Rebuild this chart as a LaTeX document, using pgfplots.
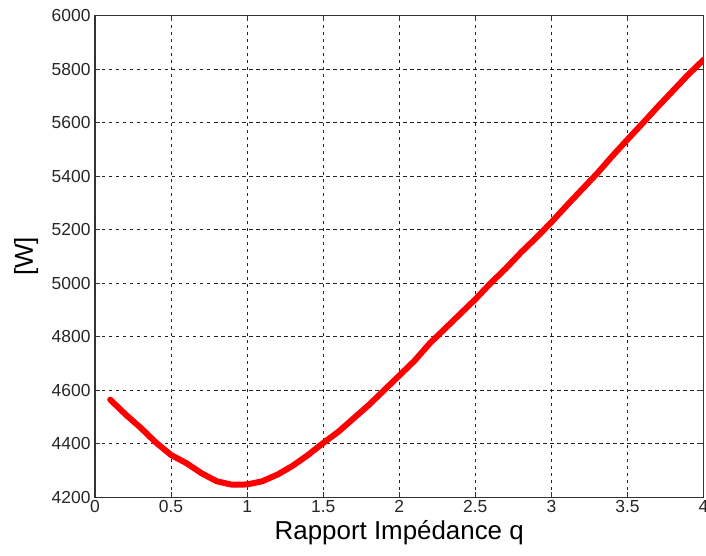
\documentclass[border=0pt]{standalone}
\usepackage{pgfplots}
\pgfplotsset{compat=1.18}
\usepackage{fontspec}
\setmainfont{Liberation Sans}
\begin{document}
\begin{tikzpicture}
\begin{axis}[
  scale only axis,
  width=608.5bp, height=481.6bp,
  xmin=0, xmax=4, ymin=4200, ymax=6000,
  xtick={0,0.5,...,4}, ytick={4200,4400,...,6000},
  xticklabels={0,0.5,1,1.5,2,2.5,3,3.5,4},
  /pgf/number format/assume math mode=true,
  /pgf/number format/1000 sep={},
  tick label style={font=\fontsize{17.5}{19}\selectfont, text=black!85},
  yticklabel style={xshift=-1bp},
  tick align=inside, tick pos=both,
  major tick length=5bp,
  axis line style={line width=1.2bp, black!80},
  every tick/.style={black!80, line width=1bp},
  grid=major,
  major grid style={black!85, line width=0.9bp, dash pattern=on 3.5bp off 3.5bp},
  xlabel={Rapport Impédance q},
  ylabel={[W]},
  xlabel style={font=\fontsize{26}{30}\selectfont, at={(axis description cs:0.5,-0.0872)}, anchor=base},
  ylabel style={font=\fontsize{26}{30}\selectfont, at={(axis description cs:-0.113,0.5)}, anchor=center},
]
\addplot[red, line width=6bp, line join=round, line cap=round] coordinates {
(0.1,4565) (0.2,4510) (0.3,4460) (0.4,4405) (0.5,4358) (0.6,4328) (0.7,4290)
(0.8,4260) (0.9,4247) (1.0,4248) (1.1,4260) (1.2,4285) (1.3,4318) (1.4,4358)
(1.5,4403) (1.6,4445) (1.7,4495) (1.8,4545) (1.9,4600) (2.0,4655) (2.1,4710)
(2.2,4775) (2.3,4830) (2.4,4885) (2.5,4940) (2.6,5000) (2.7,5055) (2.8,5115)
(2.9,5170) (3.0,5228) (3.1,5290) (3.2,5350) (3.3,5410) (3.4,5475) (3.5,5537)
(3.6,5598) (3.7,5660) (3.8,5720) (3.9,5780) (4.0,5835)
};
\end{axis}
\pgfresetboundingbox
\path[use as bounding box] (-95bp,-58.7bp) rectangle (611bp,497.3bp);
\end{tikzpicture}
\end{document}
